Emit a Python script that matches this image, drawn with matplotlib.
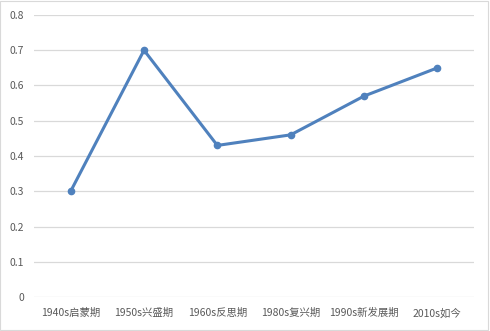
import matplotlib
matplotlib.use('Agg')
from matplotlib import pyplot as plt
from matplotlib.patches import Rectangle

plt.rcParams['font.family'] = ['Noto Sans CJK SC', 'DejaVu Sans']

periods = ['1940s启蒙期', '1950s兴盛期', '1960s反思期', '1980s复兴期', '1990s新发展期', '2010s如今']
values = [0.3, 0.7, 0.43, 0.46, 0.57, 0.65]
yticks = [0, 0.1, 0.2, 0.3, 0.4, 0.5, 0.6, 0.7, 0.8]

fig = plt.figure(figsize=(4.9, 3.31), dpi=100)
ax = fig.add_axes([0.0694, 0.1027, 0.898, 0.852])

x = list(range(len(periods)))
ax.plot(x, values, color='#4f81bd', linewidth=2.2, marker='o', markersize=4.5, zorder=3)

ax.set_xlim(-0.5, len(periods) - 0.5)
ax.set_ylim(0, 0.8)
ax.set_yticks(yticks)
ax.set_yticklabels(['0' if v == 0 else '%.1f' % v for v in yticks])
ax.set_xticks(x)
ax.set_xticklabels(periods)
ax.grid(axis='y', color='#d9d9d9', linewidth=0.9)
ax.set_axisbelow(True)
for s in ax.spines.values():
    s.set_visible(False)
ax.tick_params(axis='both', length=0, colors='#595959', labelsize=7.5)
ax.tick_params(axis='y', pad=7)
ax.tick_params(axis='x', pad=8)

# chart border like the spreadsheet frame
fig.patches.append(Rectangle((0.001, 0.003), 0.995, 0.994, transform=fig.transFigure,
                             fill=False, edgecolor='#d9d9d9', linewidth=0.8))

fig.savefig('out.png', dpi=100)
